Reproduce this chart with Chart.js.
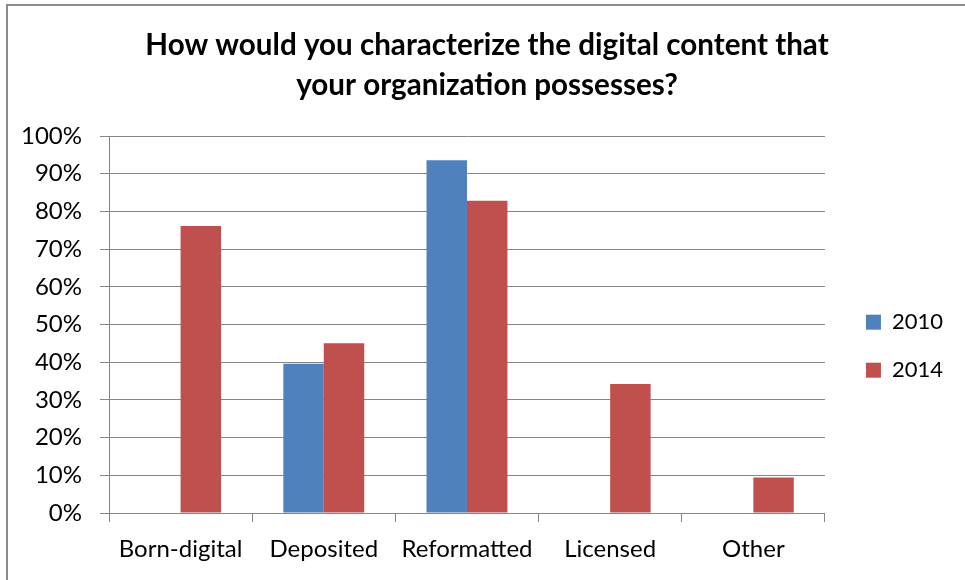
<!DOCTYPE html>
<html lang="en">
<head>
  <meta charset="UTF-8">
  <title>Digital content</title>
  <script src="https://cdn.jsdelivr.net/npm/chart.js"></script>
  <style>
    body { margin: 0; background: #fff; }
    #wrap { width: 965px; height: 580px; }
  </style>
</head>
<body>
<div id="wrap"><canvas id="myChart"></canvas></div>
<script>
  // categories and survey shares (percent)
  const categories = ['Born-digital', 'Deposited', 'Reformatted', 'Licensed', 'Other'];
  const values2010 = [null, 39.6, 93.6, null, null];
  const values2014 = [76.1, 45.0, 82.8, 34.2, 9.4];
  const seriesNames = ['2010', '2014'];
  const titleLines = ['How would you characterize the digital content that', 'your organization possesses?'];

  const gridGray = '#868686';
  const fontFamily = 'Lato, "Liberation Sans", sans-serif';

  // partial frame (top and left edge), as in the cropped picture
  const frame = {
    id: 'frame',
    beforeDraw(chart) {
      const c = chart.ctx;
      c.save();
      c.fillStyle = '#fff';
      c.fillRect(0, 0, chart.width, chart.height);
      c.strokeStyle = '#8c8c8c';
      c.lineWidth = 2;
      c.beginPath();
      c.moveTo(7, chart.height);
      c.lineTo(7, 5);
      c.lineTo(chart.width, 5);
      c.stroke();
      c.restore();
    }
  };

  // nudge legend away from the plot and centre the title on the whole frame
  const nudge = {
    id: 'nudge',
    afterLayout(chart) {
      chart.legend.left += 15;
      chart.legend.right += 15;
      chart.titleBlock.left += 18;
      chart.titleBlock.right += 18;
    }
  };

  const ctx = document.getElementById('myChart').getContext('2d');
  new Chart(ctx, {
    type: 'bar',
    data: {
      labels: categories,
      datasets: [
        { label: seriesNames[0], data: values2010, backgroundColor: '#4F81BD' },
        { label: seriesNames[1], data: values2014, backgroundColor: '#C0504D' }
      ]
    },
    options: {
      responsive: true,
      maintainAspectRatio: false,
      animation: false,
      categoryPercentage: 0.565,
      barPercentage: 1.0,
      layout: { padding: { left: 0, right: 27, top: 0, bottom: 0 } },
      plugins: {
        title: {
          display: true,
          text: titleLines,
          color: '#000',
          font: { family: fontFamily, size: 29.6, weight: 'bold', lineHeight: 40 / 29.6 },
          padding: { top: 25, bottom: 31 }
        },
        legend: {
          position: 'right',
          title: { display: true, text: ' ', padding: { top: 0, bottom: 98 } },
          labels: {
            color: '#000',
            font: { family: fontFamily, size: 22 },
            boxWidth: 15,
            boxHeight: 15,
            padding: 26
          }
        },
        tooltip: { enabled: false }
      },
      scales: {
        x: {
          grid: {
            offset: true,
            drawOnChartArea: false,
            drawTicks: true,
            tickLength: 9,
            color: gridGray
          },
          border: { color: gridGray, width: 1 },
          ticks: {
            color: '#000',
            font: { family: fontFamily, size: 24 },
            padding: 13
          },
          afterFit: scale => { scale.height = 67; }
        },
        y: {
          min: 0,
          max: 100,
          grid: { color: gridGray, tickLength: 9 },
          border: { color: gridGray, width: 1 },
          ticks: {
            stepSize: 10,
            color: '#000',
            font: { family: fontFamily, size: 24 },
            padding: 18,
            callback: v => v + '%'
          },
          afterFit: scale => { scale.width = 109; }
        }
      }
    },
    plugins: [frame, nudge]
  });
</script>
</body>
</html>
